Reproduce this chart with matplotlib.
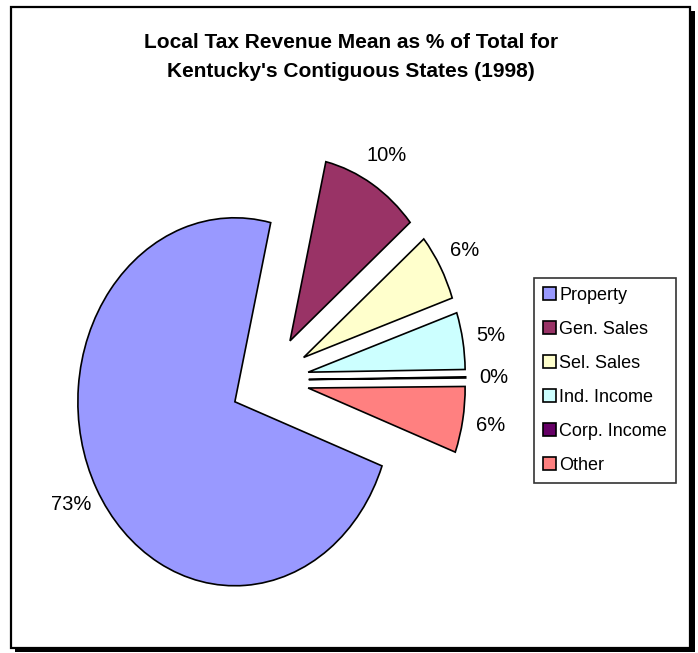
import matplotlib.pyplot as plt
from matplotlib.patches import Rectangle

categories = ["Property", "Gen. Sales", "Sel. Sales", "Ind. Income", "Corp. Income", "Other"]
shares = [73.0, 10.2, 5.9, 5.0, 0.1, 5.8]
colors = ["#9999FF", "#993366", "#FFFFCC", "#CCFFFF", "#660066", "#FF8080"]
title_lines = ["Local Tax Revenue Mean as % of Total for",
               "Kentucky's Contiguous States (1998)"]

W, H = 698, 653
plt.rcParams["font.family"] = ["Liberation Sans", "DejaVu Sans"]

fig = plt.figure(figsize=(W / 100, H / 100), dpi=100, facecolor="white")


def px_rect(x0, y0, x1, y1, **kw):
    # rectangle given in pixels measured from the top-left corner
    return Rectangle((x0 / W, 1 - y1 / H), (x1 - x0) / W, (y1 - y0) / H,
                     transform=fig.transFigure, **kw)


# chart border with drop shadow
fig.patches.append(px_rect(15, 11, 695, 652, facecolor="black", edgecolor="none", zorder=-2))
fig.patches.append(px_rect(11, 7, 690, 648, facecolor="white", edgecolor="black",
                           linewidth=1.6, zorder=-1))

# pie is stretched vertically, so the axes keep auto aspect
ax = fig.add_axes([0.1049, 0.0658, 0.5623, 0.7044])
wedges, _, pcts = ax.pie(
    shares,
    colors=colors,
    explode=[0.25] * len(shares),
    startangle=-20.4,
    counterclock=False,
    autopct="%.0f%%",
    pctdistance=1.18,
    wedgeprops=dict(edgecolor="black", linewidth=1.2),
    textprops=dict(fontsize=14.5),
)
ax.set_aspect("auto")
ax.set_xlim(-1.25, 1.25)
ax.set_ylim(-1.25, 1.25)

for line, y in zip(title_lines, [48, 77]):
    fig.text(0.503, 1 - y / H, line, ha="center", va="baseline",
             fontsize=15, fontweight="bold")

leg = fig.legend(wedges, categories, loc="upper left",
                 bbox_to_anchor=(534 / W, 1 - 278 / H), borderaxespad=0,
                 fontsize=13, frameon=True, fancybox=False,
                 handlelength=0.7, handleheight=0.7, handletextpad=0.2,
                 labelspacing=0.94, borderpad=0.5)
leg.get_frame().set_edgecolor("black")
leg.get_frame().set_linewidth(1.2)

fig.savefig("out.png", dpi=100, facecolor="white")
